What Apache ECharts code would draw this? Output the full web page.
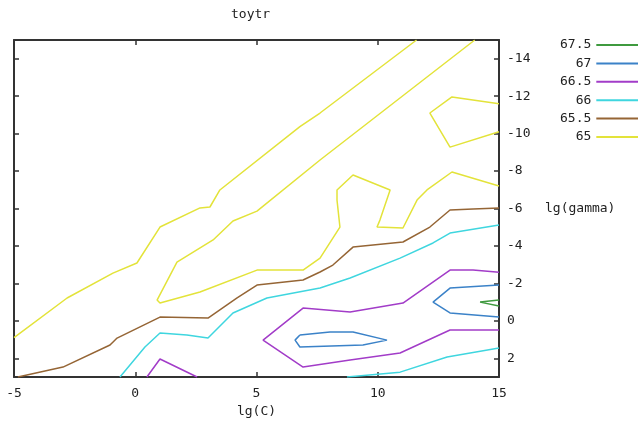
<!DOCTYPE html>
<html style="height: 100%">
<head>
<meta charset="UTF-8">
<title>toytr</title>
<script src="https://cdn.jsdelivr.net/npm/echarts@6/dist/echarts.min.js"></script>
</head>
<body style="height: 100%; margin: 0; background: #fff">
<div id="container" style="width: 638px; height: 428px"></div>
<script type="text/javascript">
// contour levels, top of legend first
var levels = ['67.5', '67', '66.5', '66', '65.5', '65'];
var colors = ['#3f9a3f', '#3b82c8', '#a23cc8', '#3fd6df', '#956535', '#e3e33a'];

var xTicks = [-5, 0, 5, 10, 15];
var yTicks = [-14, -12, -10, -8, -6, -4, -2, 0, 2];

// each level = list of polylines, points are [lg(C), lg(gamma)]
var lv675 = [
  [[15, -1.11], [14.22, -1.0], [15, -0.79]]
];
var lv67 = [
  [[6.79, 0.76], [8.03, 0.6], [8.98, 0.6], [10.38, 1.03], [9.39, 1.29], [6.79, 1.4], [6.59, 1.03], [6.79, 0.76]],
  [[15, -1.91], [12.98, -1.75], [12.28, -1.0], [12.98, -0.42], [15, -0.2]]
];
var lv665 = [
  [[15, -2.6], [13.93, -2.71], [12.98, -2.71], [11.04, -0.95], [8.86, -0.47], [6.92, -0.68], [5.27, 1.03],
   [6.92, 2.47], [8.86, 2.09], [10.92, 1.72], [12.98, 0.49], [15, 0.49]],
  [[0.48, 3], [1.02, 2.04], [2.55, 3]]
];
var lv66 = [
  [[-0.63, 3], [0.4, 1.4], [1.02, 0.65], [2.13, 0.76], [3.0, 0.92], [4.03, -0.42], [5.43, -1.22], [7.62, -1.75],
   [8.86, -2.29], [10.92, -3.35], [12.28, -4.16], [12.98, -4.69], [15, -5.12]],
  [[8.73, 3], [10.92, 2.74], [12.86, 1.93], [15, 1.45]]
];
var lv655 = [
  [[-4.84, 3], [-2.98, 2.47], [-1.04, 1.29], [-0.75, 0.92], [1.02, -0.2], [3.0, -0.15], [4.2, -1.22], [5.02, -1.91],
   [6.92, -2.18], [7.62, -2.61], [8.15, -2.98], [8.98, -3.94], [11.04, -4.21], [12.15, -5.01], [12.98, -5.92],
   [13.93, -5.97], [15, -6.03]]
];
var lv65 = [
  [[11.6, -15], [7.62, -11.1], [6.79, -10.37], [3.49, -6.99], [3.08, -6.08], [2.67, -6.03], [1.02, -5.01],
   [0.07, -3.09], [-0.92, -2.55], [-2.81, -1.22], [-5, 0.9]],
  [[14, -15], [7.62, -8.59], [5.02, -5.86], [4.03, -5.33], [3.21, -4.32], [1.72, -3.14], [0.9, -1.11], [1.02, -0.95],
   [2.67, -1.54], [5.02, -2.71], [6.92, -2.71], [7.62, -3.35], [8.44, -5.01], [8.32, -6.45], [8.32, -6.99],
   [8.98, -7.79], [10.51, -6.99], [10.09, -5.38], [9.97, -5.01], [11.04, -4.96], [11.62, -6.45], [12.03, -6.99],
   [13.06, -7.95], [15, -7.2]],
  [[15, -11.6], [13.06, -11.96], [12.15, -11.1], [12.98, -9.28], [15, -10.1]]
];
var contours = [lv675, lv67, lv665, lv66, lv655, lv65];

var FONT = 'DejaVu Sans Mono';

var series = [];
for (var i = 0; i < levels.length; i++) {
  for (var j = 0; j < contours[i].length; j++) {
    series.push({
      name: levels[i],
      type: 'line',
      data: contours[i][j],
      symbol: 'none',
      silent: true,
      lineStyle: { color: colors[i], width: 1.5 },
      itemStyle: { color: colors[i] }
    });
  }
}

var axisLine = { show: true, onZero: false, lineStyle: { color: '#333', width: 2 } };

var myChart = echarts.init(document.getElementById('container'));
var option = {
  animation: false,
  title: {
    text: 'toytr',
    left: 226,
    top: 3,
    textStyle: { fontFamily: FONT, fontSize: 13, fontWeight: 'normal', color: '#222' }
  },
  legend: {
    orient: 'vertical',
    data: levels,
    left: 560,
    top: 38,
    padding: 0,
    align: 'right',
    icon: 'rect',
    itemWidth: 45,
    itemHeight: 2,
    itemGap: 4.4,
    selectedMode: false,
    textStyle: { fontFamily: FONT, fontSize: 13, color: '#222', lineHeight: 14 }
  },
  grid: { left: 14, top: 40, right: 139, bottom: 51, containLabel: false },
  xAxis: [{
    type: 'value',
    position: 'bottom',
    min: -5, max: 15, interval: 5,
    name: 'lg(C)',
    nameLocation: 'middle',
    nameGap: 28,
    nameTextStyle: { fontFamily: FONT, fontSize: 13, color: '#222' },
    axisLine: axisLine,
    axisTick: { inside: true, length: 5, lineStyle: { color: '#333', width: 1.5 } },
    axisLabel: { margin: 10, fontFamily: FONT, fontSize: 13, color: '#222' },
    splitLine: { show: false }
  }, {
    type: 'value',
    position: 'top',
    min: -5, max: 15, interval: 5,
    axisLine: axisLine,
    axisTick: { inside: true, length: 5, lineStyle: { color: '#333', width: 1.5 } },
    axisLabel: { show: false },
    splitLine: { show: false }
  }],
  yAxis: [{
    type: 'value',
    position: 'right',
    inverse: true,
    min: -15, max: 3,
    name: 'lg(gamma)',
    nameLocation: 'middle',
    nameRotate: 0,
    nameGap: 46,
    nameTextStyle: { fontFamily: FONT, fontSize: 13, color: '#222' },
    axisLine: axisLine,
    axisTick: { inside: true, length: 5, customValues: yTicks, lineStyle: { color: '#333', width: 1.5 } },
    axisLabel: { margin: 8, customValues: yTicks, fontFamily: FONT, fontSize: 13, color: '#222' },
    splitLine: { show: false }
  }, {
    type: 'value',
    position: 'left',
    inverse: true,
    min: -15, max: 3,
    axisLine: axisLine,
    axisTick: { inside: true, length: 5, customValues: yTicks, lineStyle: { color: '#333', width: 1.5 } },
    axisLabel: { show: false },
    splitLine: { show: false }
  }],
  series: series
};
myChart.setOption(option);
</script>
</body>
</html>
